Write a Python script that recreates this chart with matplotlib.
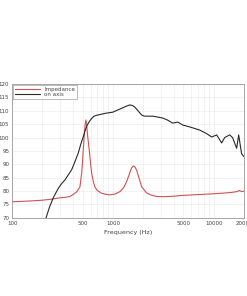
import numpy as np
import matplotlib
matplotlib.use("Agg")
import matplotlib.pyplot as plt
from matplotlib.ticker import FixedLocator, FixedFormatter, NullFormatter

# on-axis response
axis_freq = [217, 235, 256, 287, 310, 335, 360, 390, 420, 453, 480, 508, 530,
             553, 580, 610, 650, 700, 743, 850, 1000, 1100, 1230, 1350, 1470,
             1560, 1650, 1750, 1850, 1950, 2070, 2490, 3130, 3500, 3930, 4400,
             4930, 6000, 7270, 8500, 9550, 10700, 12000, 12850, 14400, 15400,
             16900, 17700, 18900, 19800]
axis_db = [70, 74, 77.5, 81, 82.8, 84.2, 86, 88, 91, 94.2, 97.5, 100.3, 102.6,
           104.5, 105.8, 107, 108, 108.4, 108.6, 109.1, 109.5, 110.2, 111, 111.7, 112.2,
           112, 111.4, 110.3, 109.2, 108.3, 108, 108, 107.3, 106.5, 105.4, 105.8,
           104.7, 103.8, 102.8, 101.5, 100.2, 101, 98, 100, 101, 100,
           96, 101, 94, 93]

# impedance curve
imp_freq = [100, 150, 200, 250, 299, 340, 375, 405, 440, 471, 490, 500, 508,
            520, 530, 540, 550, 562, 582, 600, 615, 640, 663, 700, 773, 850,
            934, 1050, 1173, 1280, 1367, 1450, 1530, 1590, 1650, 1715, 1820,
            1925, 2160, 2400, 2710, 3200, 4000, 5000, 7000, 10000, 13000,
            15000, 17000, 18000, 19000, 20000]
imp_db = [76, 76.3, 76.6, 77, 77.5, 77.7, 78, 78.8, 79.8, 81.6, 86.8, 91, 95.4,
          101, 104.8, 106.6, 104.5, 100.5, 95.4, 90.5, 86.8, 83.5, 81.6, 80.2, 79.2, 78.8,
          78.6, 78.9, 79.8, 81.3, 83.5, 86.2, 88.6, 89.4, 89.1, 87.9, 84.8,
          81.7, 79.3, 78.5, 78, 77.9, 78.1, 78.4, 78.7, 79, 79.3,
          79.5, 79.8, 80.2, 79.8, 80]

x_ticks = [100, 500, 1000, 5000, 10000, 20000]
x_labels = ["100", "500", "1000", "5000", "10000", "20000"]
y_ticks = list(range(70, 121, 5))

fig = plt.figure(figsize=(2.47, 2.96), dpi=100)
ax = fig.add_axes([0.049, 0.264, 0.939, 0.452])

ax.plot(imp_freq, imp_db, color="#cf5252", lw=0.8, label="Impedance")
ax.plot(axis_freq, axis_db, color="#2a2a2a", lw=0.8, label="on axis")

ax.set_xscale("log")
ax.set_xlim(100, 20000)
ax.set_ylim(70, 120)
ax.xaxis.set_major_locator(FixedLocator(x_ticks))
ax.xaxis.set_major_formatter(FixedFormatter(x_labels))
ax.xaxis.set_minor_formatter(NullFormatter())
ax.set_yticks(y_ticks)

ax.grid(True, which="both", color="#e8e8e8", lw=0.4)
ax.set_axisbelow(True)
ax.tick_params(which="both", length=0, labelsize=4, colors="#444444", pad=2)
for s in ax.spines.values():
    s.set_color("#999999")
    s.set_linewidth(0.6)

ax.set_xlabel("Frequency (Hz)", fontsize=4.6, color="#444444", labelpad=3)

leg = ax.legend(loc="upper left", fontsize=4, frameon=True, fancybox=False,
                borderaxespad=0.15, handlelength=4.5, handletextpad=0.8,
                borderpad=0.3, labelspacing=0.1)
leg.get_frame().set_edgecolor("#888888")
leg.get_frame().set_linewidth(0.5)
for t in leg.get_texts():
    t.set_color("#444444")

fig.savefig("out.png", dpi=100)
